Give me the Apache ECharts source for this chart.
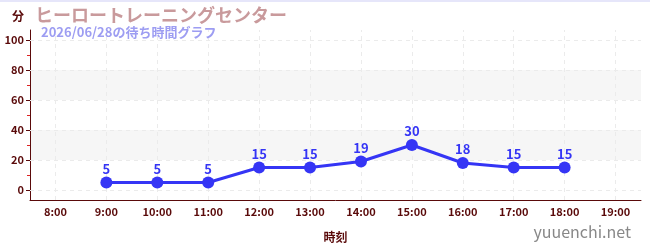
<!DOCTYPE html>
<html>
<head>
<meta charset="utf-8">
<script src="https://cdn.jsdelivr.net/npm/echarts@6/dist/echarts.min.js"></script>
<style>
html,body{margin:0;padding:0;background:#fff;}
#c{width:650px;height:250px;position:relative;}
#topline{position:absolute;left:0;top:0;width:650px;height:2px;background:#e6e6fa;z-index:10;}
</style>
</head>
<body>
<div id="c"></div>
<div id="topline"></div>
<script>
const categories = ['8:00','9:00','10:00','11:00','12:00','13:00','14:00','15:00','16:00','17:00','18:00','19:00'];
const waitTimes = [null, 5, 5, 5, 15, 15, 19, 30, 18, 15, 15, null];
const yTickLabels = [0, 20, 40, 60, 80, 100];
const yMinorTicks = [10, 30, 50, 70, 90];
const shadedBands = [[20, 40], [60, 80]];
const titleText = 'ヒーロートレーニングセンター';
const subtitleText = '2026/06/28の待ち時間グラフ';
const yName = '分';
const xName = '時刻';
const siteText = 'yuuenchi.net';

const FONT = '"Noto Sans CJK JP", "Noto Sans", sans-serif';
const dark = '#5a0a0a';
const blue = '#3535f5';
const yMin = -20/3, yMax = 320/3;

const chart = echarts.init(document.getElementById('c'));
chart.setOption({
  animation: false,
  textStyle: { fontFamily: FONT },
  title: [
    { text: titleText, left: 30, top: 1,
      textStyle: { fontFamily: FONT, fontSize: 18, fontWeight: 'bold', color: '#c99a9c' } },
    { text: subtitleText, left: 36, top: 21,
      textStyle: { fontFamily: FONT, fontSize: 13, fontWeight: 'bold', color: '#9d9df2' } },
    { text: siteText, right: 14, bottom: 5,
      textStyle: { fontFamily: FONT, fontSize: 16, fontWeight: 'normal', color: '#888888' } }
  ],
  grid: { left: 30, right: 9, top: 30, bottom: 50, containLabel: false },
  xAxis: {
    type: 'category',
    data: categories,
    boundaryGap: true,
    name: xName,
    nameLocation: 'middle',
    nameGap: 31,
    nameTextStyle: { color: dark, fontSize: 12, fontWeight: 'bold', fontFamily: FONT },
    axisLine: { onZero: false, lineStyle: { color: dark, width: 1 } },
    axisTick: { alignWithLabel: true, length: 4, lineStyle: { color: dark } },
    axisLabel: { color: dark, fontSize: 11, fontWeight: 'bold', margin: 6, interval: 0, fontFamily: FONT },
    splitLine: { show: false }
  },
  yAxis: [
    {
      type: 'value',
      min: yMin, max: yMax,
      name: yName,
      nameLocation: 'end',
      nameGap: 8,
      nameTextStyle: { color: dark, fontSize: 12, fontWeight: 'bold', align: 'right', padding: [0, 6, 0, 0], fontFamily: FONT },
      axisLine: { show: true, lineStyle: { color: dark, width: 1 } },
      axisTick: { show: true, length: 4, customValues: yTickLabels, lineStyle: { color: dark } },
      axisLabel: { color: dark, fontSize: 11, fontWeight: 'bold', margin: 6, customValues: yTickLabels, fontFamily: FONT },
      splitLine: { show: false },
      splitArea: { show: false }
    },
    {
      type: 'value',
      min: yMin, max: yMax,
      position: 'left',
      axisLine: { show: false },
      axisTick: { show: true, length: 3, customValues: yMinorTicks, lineStyle: { color: '#dd2222' } },
      axisLabel: { show: false },
      splitLine: { show: false }
    }
  ],
  series: [{
    type: 'line',
    data: waitTimes,
    yAxisIndex: 0,
    z: 3,
    connectNulls: false,
    symbol: 'circle',
    symbolSize: 12,
    lineStyle: { color: blue, width: 3 },
    itemStyle: { color: blue },
    label: { show: true, position: 'top', distance: 1, color: blue, fontSize: 13, fontWeight: 'bold', fontFamily: FONT },
    markArea: {
      silent: true,
      z: 0,
      itemStyle: { color: '#f6f6f6' },
      data: shadedBands.map(b => [{ yAxis: b[0] }, { yAxis: b[1] }])
    },
    markLine: {
      silent: true,
      z: 1,
      symbol: 'none',
      label: { show: false },
      lineStyle: { color: '#ebebeb', type: [4, 4], width: 1 },
      data: yTickLabels.map(v => ({ yAxis: v })).concat(categories.map(c => ({ xAxis: c })))
    }
  }]
});
</script>
</body>
</html>
